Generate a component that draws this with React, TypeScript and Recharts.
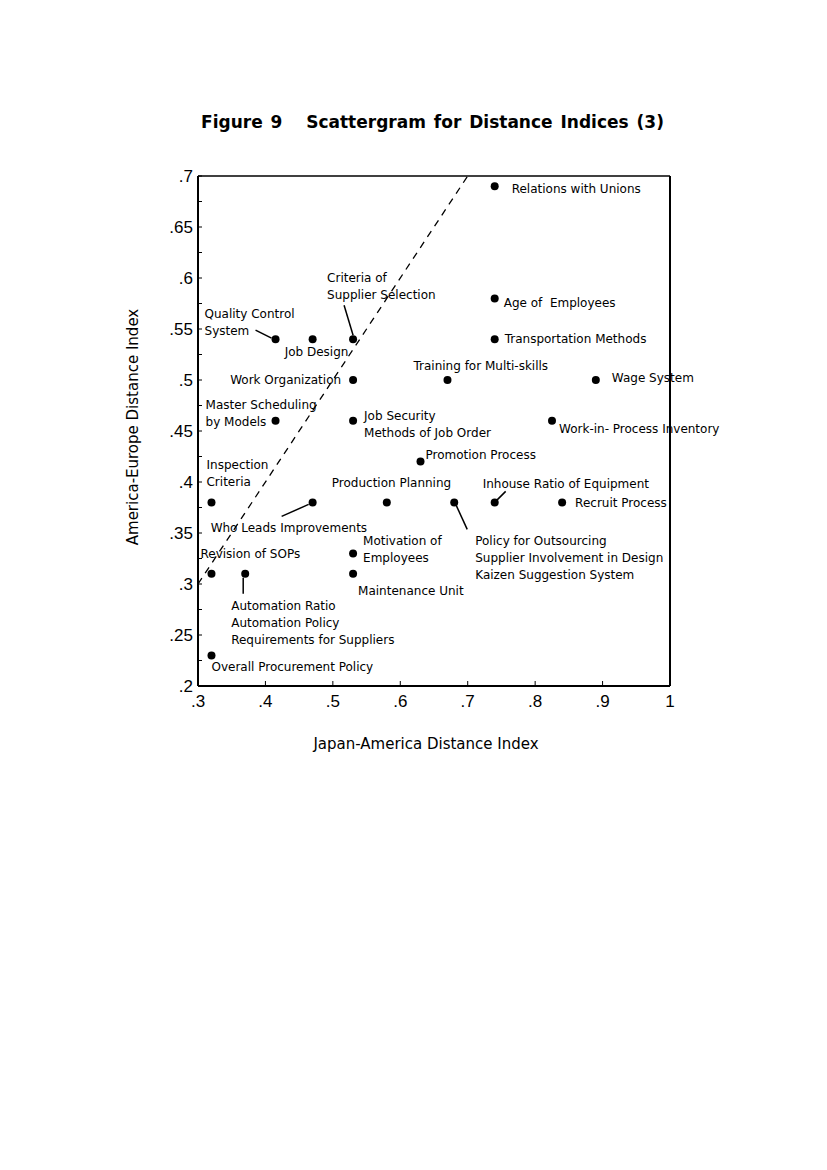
import { ScatterChart, Scatter, XAxis, YAxis, ReferenceLine } from 'recharts'

const itemLabels = [
  'Relations with Unions',
  'Age of  Employees',
  'Transportation Methods',
  'Wage System',
  'Work-in- Process Inventory',
  'Training for Multi-skills',
  'Quality Control\nSystem',
  'Job Design',
  'Criteria of\nSupplier Selection',
  'Work Organization',
  'Master Scheduling\nby Models',
  'Job Security\nMethods of Job Order',
  'Promotion Process',
  'Inspection\nCriteria',
  'Who Leads Improvements',
  'Production Planning',
  'Policy for Outsourcing\nSupplier Involvement in Design\nKaizen Suggestion System',
  'Inhouse Ratio of Equipment',
  'Recruit Process',
  'Motivation of\nEmployees',
  'Maintenance Unit',
  'Revision of SOPs',
  'Automation Ratio\nAutomation Policy\nRequirements for Suppliers',
  'Overall Procurement Policy',
]

// Japan-America distance (x) and America-Europe distance (y), same order as itemLabels
const japanAmerica = [0.74, 0.74, 0.74, 0.89, 0.825, 0.67, 0.415, 0.47, 0.53, 0.53, 0.415, 0.53, 0.63, 0.32, 0.47, 0.58, 0.68, 0.74, 0.84, 0.53, 0.53, 0.32, 0.37, 0.32]
const americaEurope = [0.69, 0.58, 0.54, 0.5, 0.46, 0.5, 0.54, 0.54, 0.54, 0.5, 0.46, 0.46, 0.42, 0.38, 0.38, 0.38, 0.38, 0.38, 0.38, 0.33, 0.31, 0.31, 0.31, 0.23]

const xTicks = [0.3, 0.4, 0.5, 0.6, 0.7, 0.8, 0.9, 1]
const xTickLabels = ['.3', '.4', '.5', '.6', '.7', '.8', '.9', '1']
const yTicks = [0.2, 0.25, 0.3, 0.35, 0.4, 0.45, 0.5, 0.55, 0.6, 0.65, 0.7]
const yTickLabels = ['.2', '.25', '.3', '.35', '.4', '.45', '.5', '.55', '.6', '.65', '.7']
const yMinorTicks = [0.225, 0.275, 0.325, 0.375, 0.425, 0.475, 0.525, 0.575, 0.625, 0.675]
const diagonalEnds = [0.3, 0.7] // y = x line

// label placement relative to each dot (px): text offset, anchor, optional leader line
type Layout = { dx: number; dy: number; anchor?: 'start' | 'end'; leader?: [number, number, number, number] }
const labelLayout: Layout[] = [
  { dx: 17, dy: 7 },
  { dx: 9, dy: 9 },
  { dx: 10, dy: 4 },
  { dx: 16, dy: 2 },
  { dx: 7, dy: 12 },
  { dx: -34, dy: -10 },
  { dx: -71, dy: -21, leader: [-20, -9, -4, -1] },
  { dx: -28, dy: 17 },
  { dx: -26, dy: -57, leader: [-9, -34, 0, -4] },
  { dx: -12, dy: 4, anchor: 'end' },
  { dx: -70, dy: -12 },
  { dx: 11, dy: -1 },
  { dx: 5, dy: -3 },
  { dx: -5, dy: -33 },
  { dx: -102, dy: 30, leader: [-31, 14, -4, 2] },
  { dx: -55, dy: -15 },
  { dx: 21, dy: 43, leader: [2, 3, 13, 27] },
  { dx: -12, dy: -14, leader: [2, -2, 11, -11] },
  { dx: 13, dy: 5 },
  { dx: 10, dy: -8 },
  { dx: 5, dy: 21 },
  { dx: -11, dy: -16 },
  { dx: -14, dy: 36, leader: [-2, 4, -2, 20] },
  { dx: 0, dy: 16 },
]

const points = itemLabels.map((label, i) => ({ x: japanAmerica[i], y: americaEurope[i], label, idx: i }))

const allYTicks = [...yTicks, ...yMinorTicks].sort((a, b) => a - b)

const labelFont = '"DejaVu Sans", sans-serif'

const LabelledDot = (props: any) => {
  const { cx, cy, payload } = props
  const lay = labelLayout[payload.idx]
  const lines = (payload.label as string).split('\n')
  const tx = cx + lay.dx
  return (
    <g>
      <circle cx={cx} cy={cy} r={4} fill="#000" />
      {lay.leader && (
        <line x1={cx + lay.leader[0]} y1={cy + lay.leader[1]} x2={cx + lay.leader[2]} y2={cy + lay.leader[3]} stroke="#000" strokeWidth={1.5} />
      )}
      <text x={tx} y={cy + lay.dy} textAnchor={lay.anchor ?? 'start'} fontSize={12} fontFamily={labelFont} fill="#000" style={{ whiteSpace: 'pre' }}>
        {lines.map((l, i) => (
          <tspan key={i} x={tx} dy={i === 0 ? 0 : 17}>{l}</tspan>
        ))}
      </text>
    </g>
  )
}

const tickFont = { fill: '#000', fontSize: 17, fontFamily: '"Liberation Sans", Arial, sans-serif' }

export default function App() {
  return (
    <div style={{ position: 'absolute', left: 0, top: 0, width: 827, height: 1170, background: '#fff', fontFamily: labelFont }}>
      <div style={{ position: 'absolute', left: 0, width: 865, top: 112, textAlign: 'center', fontSize: 17, fontWeight: 700, wordSpacing: 2, whiteSpace: 'pre' }}>
        {'Figure 9   Scattergram for Distance Indices (3)'}
      </div>
      <div style={{ position: 'absolute', left: 0, width: 852, top: 735, textAlign: 'center', fontSize: 15 }}>
        Japan-America Distance Index
      </div>
      <div style={{ position: 'absolute', left: 133, top: 428, width: 0, height: 0 }}>
        <div style={{ position: 'absolute', left: -200, top: -10, width: 400, textAlign: 'center', fontSize: 15, transform: 'rotate(-90deg)', whiteSpace: 'nowrap' }}>
          America-Europe Distance Index
        </div>
      </div>
      <div style={{ position: 'absolute', left: 0, top: 0 }}>
        <ScatterChart width={827} height={1170} margin={{ top: 156, right: 137, bottom: 454, left: 138 }}>
          <XAxis
            dataKey="x"
            type="number"
            domain={[0.3, 1]}
            ticks={xTicks}
            interval={0}
            height={30}
            tickSize={-5}
            tickMargin={14}
            tickFormatter={(v: number) => xTickLabels[xTicks.indexOf(v)] ?? ''}
            tick={tickFont}
            axisLine={{ stroke: '#000', strokeWidth: 2 }}
            tickLine={{ stroke: '#000' }}
          />
          <XAxis
            xAxisId="top"
            orientation="top"
            dataKey="x"
            type="number"
            domain={[0.3, 1]}
            ticks={xTicks}
            interval={0}
            height={20}
            tickSize={-5}
            tick={false}
            axisLine={{ stroke: '#000', strokeWidth: 1.5 }}
            tickLine={{ stroke: '#000' }}
          />
          <YAxis
            dataKey="y"
            type="number"
            domain={[0.2, 0.7]}
            ticks={allYTicks}
            interval={0}
            width={60}
            tickSize={-4}
            tickMargin={9}
            tickFormatter={(v: number) => yTickLabels[yTicks.findIndex((t) => Math.abs(t - v) < 1e-6)] ?? ''}
            tick={tickFont}
            axisLine={{ stroke: '#000', strokeWidth: 2 }}
            tickLine={{ stroke: '#000' }}
          />
          <YAxis
            yAxisId="right"
            orientation="right"
            dataKey="y"
            type="number"
            domain={[0.2, 0.7]}
            ticks={allYTicks}
            interval={0}
            width={20}
            tickSize={-4}
            tick={false}
            axisLine={{ stroke: '#000', strokeWidth: 2 }}
            tickLine={{ stroke: '#000' }}
          />
          <ReferenceLine
            segment={[{ x: diagonalEnds[0], y: diagonalEnds[0] }, { x: diagonalEnds[1], y: diagonalEnds[1] }]}
            stroke="#000"
            strokeWidth={1.3}
            strokeDasharray="7 6"
          />
          <Scatter data={points} shape={<LabelledDot />} isAnimationActive={false} />
        </ScatterChart>
      </div>
    </div>
  )
}
